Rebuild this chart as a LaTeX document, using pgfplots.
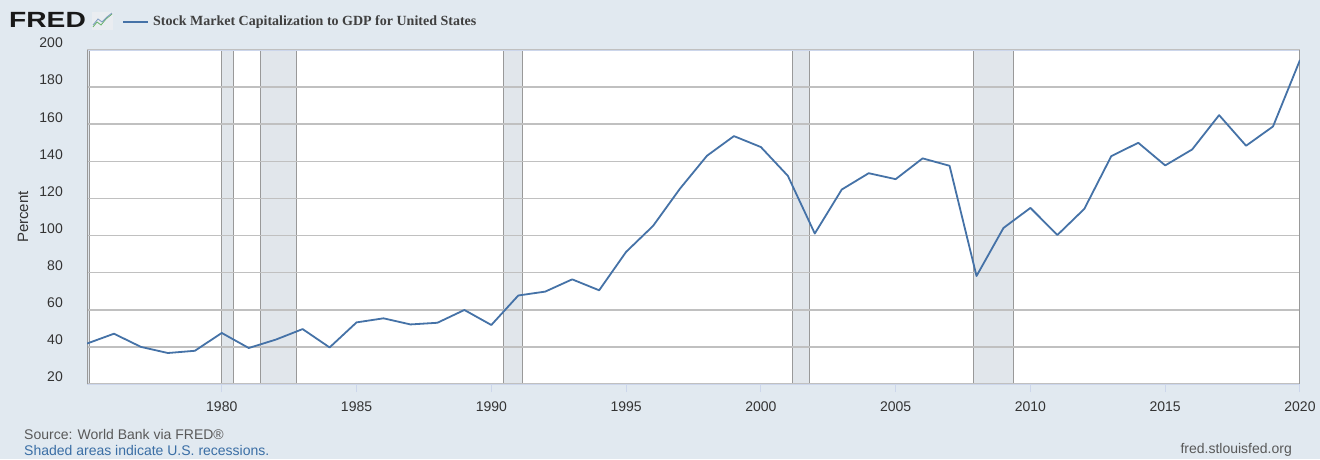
\documentclass[border=0pt]{standalone}
\usepackage{fontspec}
\setmainfont{Liberation Sans}
\newfontfamily\titlefont{Liberation Serif}
\newfontfamily\fredfont[FakeStretch=1.28]{Liberation Sans}
\usepackage{pgfplots}
\pgfplotsset{compat=1.18}
\definecolor{bg}{HTML}{E1E9F0}
\definecolor{rec}{HTML}{E1E6EB}
\definecolor{recline}{HTML}{999999}
\definecolor{gridc}{HTML}{C0C0C0}
\definecolor{sline}{HTML}{4572A7}
\definecolor{txt}{HTML}{333333}
\definecolor{axblue}{HTML}{CCD6EB}
\definecolor{linkblue}{HTML}{3A6EA5}
\pgfplotstableread{
year value
1975 41.8
1976 47.1
1977 40.0
1978 36.7
1979 37.9
1980 47.5
1981 39.4
1982 43.9
1983 49.6
1984 39.7
1985 53.2
1986 55.4
1987 52.1
1988 53.0
1989 59.9
1990 51.8
1991 67.7
1992 69.8
1993 76.4
1994 70.5
1995 91.2
1996 105.2
1997 125.3
1998 143.0
1999 153.6
2000 147.7
2001 132.2
2002 101.1
2003 124.8
2004 133.6
2005 130.4
2006 141.6
2007 137.6
2008 78.2
2009 104.1
2010 114.9
2011 100.3
2012 114.4
2013 142.8
2014 150.0
2015 137.8
2016 146.4
2017 164.9
2018 148.4
2019 158.8
2020 194.6
}\datatable
\newcommand{\recband}[2]{%
  \addplot[fill=rec, draw=none, on layer=axis background, forget plot] coordinates {(#1,20) (#1,200) (#2,200) (#2,20)} -- cycle;
  \addplot[recline, line width=1pt, on layer=axis background, forget plot] coordinates {(#1,20) (#1,200)};
  \addplot[recline, line width=1pt, on layer=axis background, forget plot] coordinates {(#2,20) (#2,200)};
}
\pagecolor{bg}
\begin{document}
\begin{tikzpicture}
\path (0pt,0pt) rectangle (1320pt,459pt);
% header
\node[anchor=west, inner sep=0pt, font=\fredfont\bfseries\fontsize{22}{22}\selectfont, text=black!90] at (9pt,439pt) {FRED};
\fill[rec!70!white] (92pt,429pt) rectangle (113pt,447pt);
\draw[green!50!black!60, line width=0.8pt] (93pt,432pt) -- (97pt,437pt) -- (101pt,434pt) -- (106pt,440pt) -- (112pt,445pt);
\draw[sline!70, line width=0.8pt] (93pt,434pt) -- (98pt,440pt) -- (102pt,437pt) -- (107pt,442pt) -- (112pt,446pt);
\draw[sline, line width=1.5pt] (123pt,437pt) -- (148pt,437pt);
\node[anchor=west, inner sep=0pt, font=\titlefont\bfseries\fontsize{14}{14}\selectfont, text=black!75] at (153pt,437pt) {Stock Market Capitalization to GDP for United States};
% footer
\node[anchor=west, inner sep=0pt, font=\fontsize{14}{14}\selectfont, text=black!65] at (24pt,25pt) {Source: World Bank via FRED®};
\node[anchor=west, inner sep=0pt, font=\fontsize{14}{14}\selectfont, text=linkblue] at (24pt,9pt) {Shaded areas indicate U.S. recessions.};
\node[anchor=east, inner sep=0pt, font=\fontsize{14}{14}\selectfont, text=black!65] at (1292pt,9pt) {fred.stlouisfed.org};
\begin{axis}[
  set layers,
  at={(87pt,75pt)}, anchor=south west,
  scale only axis, width=1213pt, height=334pt,
  xmin=1975, xmax=2020, ymin=20, ymax=200,
  axis background/.style={fill=white},
  xtick={1980,1985,...,2020},
  ytick={20,40,...,200},
  ymajorgrids,
  grid style={gridc, line width=1.5pt},
  axis lines=box, separate axis lines,
  x axis line style={draw=axblue, line width=1pt},
  y axis line style={draw=recline, line width=1pt},
  tick pos=left,
  xtick style={draw=axblue, line width=1pt},
  ytick style={draw=none},
  tick align=outside,
  major tick length=8pt,
  /pgf/number format/assume math mode=true,
  /pgf/number format/1000 sep={},
  ticklabel style={font=\fontsize{14}{14}\selectfont, text=txt},
  yticklabel style={anchor=east, inner sep=0pt, xshift=-16pt, yshift=7pt},
  xticklabel style={anchor=center, inner sep=0pt, yshift=-15pt},
  xticklabel shift=0pt, yticklabel shift=0pt,
  ylabel={Percent},
  every axis y label/.style={at={(rel axis cs:0,0.5)}, xshift=-64pt, rotate=90, anchor=center, font=\fontsize{15}{15}\selectfont, text=txt},
]
\recband{1975}{1975.1}
\recband{1980}{1980.45}
\recband{1981.44}{1982.79}
\recband{1990.47}{1991.14}
\recband{2001.16}{2001.81}
\recband{2007.9}{2009.38}
\addplot[sline, line width=1.8pt, line join=round, mark=none] table[x=year, y=value] {\datatable};
\end{axis}
\end{tikzpicture}
\end{document}
